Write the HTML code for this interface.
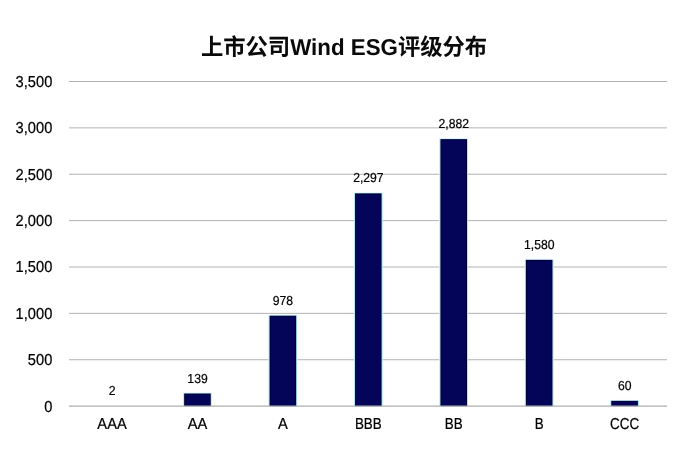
<!DOCTYPE html>
<html lang="zh"><head><meta charset="utf-8"><title>上市公司Wind ESG评级分布</title>
<style>
html,body{margin:0;padding:0;background:#fff;width:699px;height:450px;overflow:hidden;font-family:"Liberation Sans",sans-serif;}
svg{position:absolute;left:0;top:0;display:block;will-change:transform;text-rendering:geometricPrecision;}
</style></head><body>
<svg width="699" height="450" viewBox="0 0 699 450" role="img" aria-label="上市公司Wind ESG评级分布">
<rect width="699" height="450" fill="#fff"/>
<rect x="69" y="81.00" width="598" height="1" fill="#b3b3b3"/>
<rect x="69" y="127.37" width="598" height="1" fill="#b3b3b3"/>
<rect x="69" y="173.74" width="598" height="1" fill="#b3b3b3"/>
<rect x="69" y="220.11" width="598" height="1" fill="#b3b3b3"/>
<rect x="69" y="266.49" width="598" height="1" fill="#b3b3b3"/>
<rect x="69" y="312.86" width="598" height="1" fill="#b3b3b3"/>
<rect x="69" y="359.23" width="598" height="1" fill="#b3b3b3"/>
<rect x="183.14" y="392.51" width="28.60" height="13.59" fill="#dcf7ff"/>
<rect x="183.14" y="393.21" width="28.60" height="12.89" fill="#b4eaff"/>
<rect x="184.14" y="393.51" width="26.60" height="12.59" fill="#000030"/>
<rect x="185.04" y="394.41" width="24.80" height="11.69" fill="#040458"/>
<rect x="268.57" y="314.70" width="28.60" height="91.40" fill="#dcf7ff"/>
<rect x="268.57" y="315.40" width="28.60" height="90.70" fill="#b4eaff"/>
<rect x="269.57" y="315.70" width="26.60" height="90.40" fill="#000030"/>
<rect x="270.47" y="316.60" width="24.80" height="89.50" fill="#040458"/>
<rect x="354.00" y="192.37" width="28.60" height="213.73" fill="#dcf7ff"/>
<rect x="354.00" y="193.07" width="28.60" height="213.03" fill="#b4eaff"/>
<rect x="355.00" y="193.37" width="26.60" height="212.73" fill="#000030"/>
<rect x="355.90" y="194.27" width="24.80" height="211.83" fill="#040458"/>
<rect x="439.43" y="138.12" width="28.60" height="267.98" fill="#dcf7ff"/>
<rect x="439.43" y="138.82" width="28.60" height="267.28" fill="#b4eaff"/>
<rect x="440.43" y="139.12" width="26.60" height="266.98" fill="#000030"/>
<rect x="441.33" y="140.02" width="24.80" height="266.08" fill="#040458"/>
<rect x="524.86" y="258.87" width="28.60" height="147.23" fill="#dcf7ff"/>
<rect x="524.86" y="259.57" width="28.60" height="146.53" fill="#b4eaff"/>
<rect x="525.86" y="259.87" width="26.60" height="146.23" fill="#000030"/>
<rect x="526.76" y="260.77" width="24.80" height="145.33" fill="#040458"/>
<rect x="610.29" y="399.84" width="28.60" height="6.26" fill="#dcf7ff"/>
<rect x="610.29" y="400.54" width="28.60" height="5.56" fill="#b4eaff"/>
<rect x="611.29" y="400.84" width="26.60" height="5.26" fill="#000030"/>
<rect x="612.19" y="401.74" width="24.80" height="4.36" fill="#040458"/>
<rect x="69" y="405.50" width="598" height="1.2" fill="#ababab"/>
<g font-family="Liberation Sans, sans-serif" font-size="14.67" fill="#000" stroke="#000" stroke-width="0.2" text-anchor="end">
<text transform="translate(52.30 86.90) scale(1 1.08)">3,500</text>
<text transform="translate(52.30 133.27) scale(1 1.08)">3,000</text>
<text transform="translate(52.30 179.64) scale(1 1.08)">2,500</text>
<text transform="translate(52.30 226.01) scale(1 1.08)">2,000</text>
<text transform="translate(52.30 272.39) scale(1 1.08)">1,500</text>
<text transform="translate(52.30 318.76) scale(1 1.08)">1,000</text>
<text transform="translate(52.30 365.13) scale(1 1.08)">500</text>
<text transform="translate(52.30 411.50) scale(1 1.08)">0</text>
</g>
<g font-family="Liberation Sans, sans-serif" font-size="14.67" fill="#000" stroke="#000" stroke-width="0.2" text-anchor="middle">
<text transform="translate(112.01 428.80) scale(1.0 1.08)">AAA</text>
<text transform="translate(197.44 428.80) scale(1.0 1.08)">AA</text>
<text transform="translate(282.87 428.80) scale(1.0 1.08)">A</text>
<text transform="translate(368.30 428.80) scale(0.912 1.08)">BBB</text>
<text transform="translate(453.73 428.80) scale(0.912 1.08)">BB</text>
<text transform="translate(539.16 428.80) scale(0.912 1.08)">B</text>
<text transform="translate(624.59 428.80) scale(0.915 1.08)">CCC</text>
</g>
<g font-family="Liberation Sans, sans-serif" font-size="12.2" fill="#000" stroke="#000" stroke-width="0.2" text-anchor="middle">
<text transform="translate(112.11 395.21) scale(1 1.07)">2</text>
<text transform="translate(197.54 382.51) scale(1 1.07)">139</text>
<text transform="translate(282.97 304.70) scale(1 1.07)">978</text>
<text transform="translate(368.40 182.37) scale(1 1.07)">2,297</text>
<text transform="translate(453.83 128.12) scale(1 1.07)">2,882</text>
<text transform="translate(539.26 248.87) scale(1 1.07)">1,580</text>
<text transform="translate(624.69 389.84) scale(1 1.07)">60</text>
</g>
<text x="200.9" y="55" font-family="'Liberation Sans', 'Noto Sans CJK SC', sans-serif" font-size="23" font-weight="bold" fill="#0a0a0a" textLength="286.3" lengthAdjust="spacingAndGlyphs">上市公司Wind ESG评级分布</text>
</svg>
</body></html>
